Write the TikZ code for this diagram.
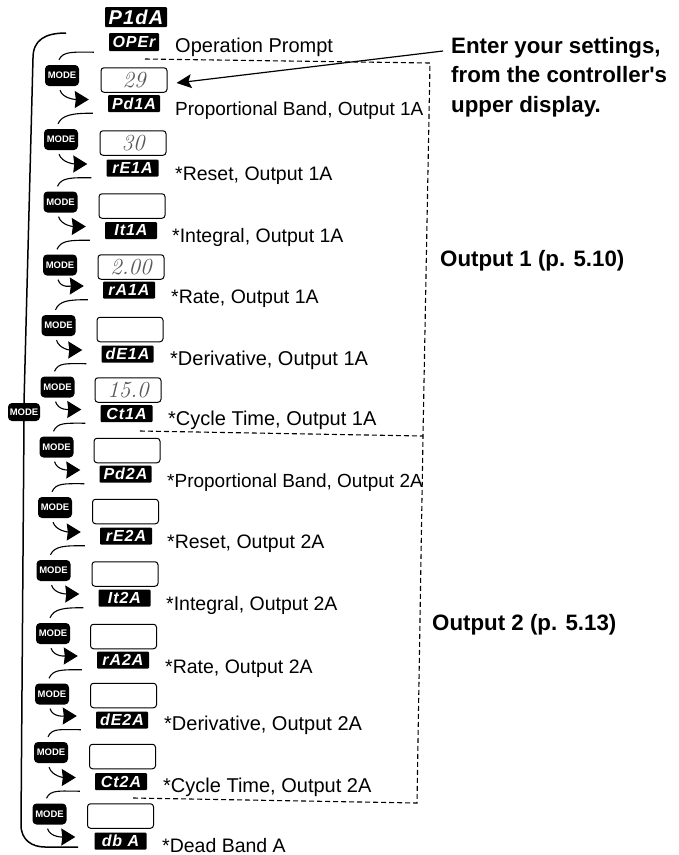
\documentclass[tikz,border=0pt]{standalone}
\usepackage{fontspec}
\setsansfont{Liberation Sans}
\newfontfamily\segfont[LetterSpace=6]{Liberation Sans}
\newcommand\descwide{\fontsize{20}{24}\selectfont}
\newcommand\descnarrow{\fontsize{19}{24}\selectfont}
\usetikzlibrary{arrows.meta,calc}
\tikzset{
  lcd/.style={fill=black,text=white,rounded corners=1pt,inner sep=0pt,minimum width=52pt,minimum height=17pt,font=\segfont\bfseries\itshape\fontsize{16}{17}\selectfont},
  lcdbig/.style={lcd,minimum width=62pt,minimum height=20pt,font=\segfont\bfseries\itshape\fontsize{20}{20}\selectfont},
  entry/.style={draw=black,line width=1pt,fill=white,rounded corners=3pt,inner sep=0pt,minimum width=66pt,minimum height=24.5pt,text=black!65,font=\rmfamily\itshape\fontsize{23}{23}\selectfont},
  modekey/.style={fill=black,text=white,rounded corners=4pt,inner sep=0pt,minimum width=34pt,minimum height=21pt,font=\sffamily\bfseries\fontsize{9.5}{10}\selectfont},
  desc/.style={anchor=base west,inner sep=0pt,font=\sffamily\fontsize{19.5}{24}\selectfont},
  head/.style={anchor=base west,inner sep=0pt,font=\sffamily\bfseries\fontsize{22.3}{29.5}\selectfont},
  link/.style={line width=1.1pt},
  flow/.style={line width=1.1pt,-{Stealth[length=14pt,width=17pt,inset=1pt]}},
  bracket/.style={line width=1.5pt},
  zone/.style={line width=1.1pt,dash pattern=on 5pt off 3pt}
}
\begin{document}
\begin{tikzpicture}[x=1pt,y=-1pt]
\useasboundingbox[fill=white] (0,0) rectangle (679,855);
% header
\node[lcdbig] (pida) at (136,17) {P1dA};
\node[lcd,minimum width=50pt,minimum height=18pt] (b0) at (134,42) {OPEr};
\node[desc] (l0) at (175,52) {\descwide Operation Prompt};
% zones
\coordinate (za) at (145,59);
\coordinate (zb) at (430,63);
\coordinate (zc) at (140,431);
\coordinate (zd) at (423,436);
\coordinate (ze) at (133,798);
\coordinate (zf) at (417,803);
\draw[zone] (za) -- (zb) -- (zd) -- (zf) -- (ze);
\draw[zone] (zc) -- (zd);
% rows
\foreach \n/\wx/\wy/\bx/\by/\mx/\my/\seg/\lx/\ly/\lab/\hand in {
 1/134/80/134/103.5/62/75.5/Pd1A/175/115/{\descnarrow Proportional Band, Output 1A}/29,
 2/133/143/132.5/168/61/139.5/rE1A/175/180/{*Reset, Output 1A}/30,
 3/132/206/131/230.5/60.5/202/It1A/172/242/{*Integral, Output 1A}/{},
 4/131/267/129/290/60/265/rA1A/171/303/{*Rate, Output 1A}/2.00,
 5/130/329.5/127.5/354/58.5/325.5/dE1A/170/365/{\descwide *Derivative, Output 1A}/{},
 6/128/390/126.5/413.5/57.5/387/Ct1A/168/425/{\descwide *Cycle Time, Output 1A}/15.0,
 7/127/450.5/125.5/474/56.5/447/Pd2A/167/487/{\descnarrow *Proportional Band, Output 2A}/{},
 8/125.5/511.5/126/536/55/507.5/rE2A/167/548/{*Reset, Output 2A}/{},
 9/125/574/124.5/598/53.5/570.5/It2A/166/610/{*Integral, Output 2A}/{},
 10/123.5/636.5/123/660/53/633.5/rA2A/165/673/{*Rate, Output 2A}/{},
 11/123.5/695.5/122/720/52/694/dE2A/164/730/{\descwide *Derivative, Output 2A}/{},
 12/122.5/756.5/121/781.5/51/752.5/Ct2A/163/792/{\descwide *Cycle Time, Output 2A}/{},
 13/120.5/816/120.5/841/49.5/814/{db A}/162/852/{*Dead Band A}/{}%
}{
  \node[entry] (w\n) at (\wx,\wy) {\hand};
  \node[lcd] (b\n) at (\bx,\by) {\seg};
  \node[modekey] (m\n) at (\mx,\my) {MODE};
  \node[desc] (l\n) at (\lx,\ly) {\lab};
  \pgfmathtruncatemacro{\p}{\n-1}
  \draw[link] ([xshift=-15pt,yshift=-1pt]b\p.south west) .. controls +(-20,0) and +(4,-9) .. ([xshift=-3pt,yshift=5pt]m\n.north);
  \draw[flow] ([xshift=-2pt,yshift=-4pt]m\n.south) .. controls +(3,9) and +(-12,0) .. ([xshift=-19pt,yshift=4pt]b\n.west);
}
% outer return
\node[modekey,minimum width=32pt,minimum height=18pt] (side) at (24,412) {MODE};
\coordinate (rtop) at (66,33);
\coordinate (rbot) at (78,847);
\draw[bracket] (rtop) .. controls (45,33) and (33,40) .. (33,58) -- (side.north);
\draw[bracket] (side.south) -- (21,825) .. controls (21,840) and (32,847) .. (45,847) -- (rbot);
% headings
\node[head,anchor=north west,align=left] (enter) at (451,37) {Enter your settings,\\from the controller\textquotesingle s\\upper display.};
\node[head] (o1) at (440,266) {Output 1 (p. 5.10)};
\node[head] (o2) at (432,630) {Output 2 (p. 5.13)};
\draw[line width=1.2pt,-{Stealth[length=15pt,width=14pt,inset=3pt]}] ([xshift=-8pt,yshift=-14pt]enter.north west) -- ([xshift=9pt,yshift=-3pt]w1.east);
\end{tikzpicture}
\end{document}
